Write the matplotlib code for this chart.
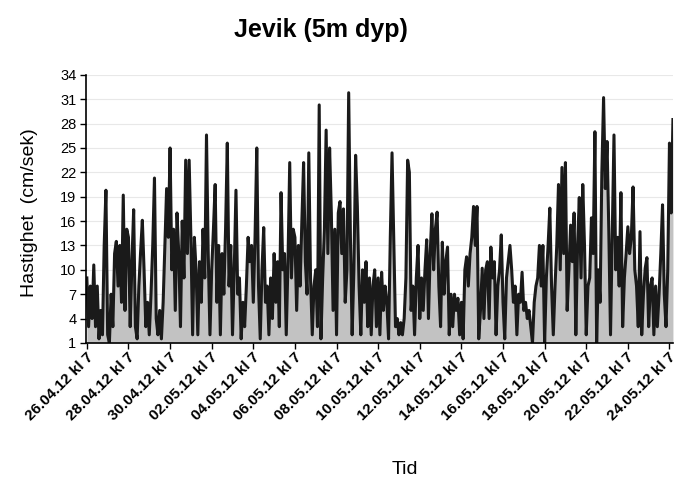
import numpy as np
import matplotlib
matplotlib.use("Agg")
import matplotlib.pyplot as plt
import matplotlib.transforms as mtransforms

plt.rcParams['font.family'] = ['Liberation Sans', 'DejaVu Sans']

# current speed (cm/s), one reading every 2 hours from 26.04.12 kl 7
speed = [
    9, 3, 8, 4, 10.6, 3, 8, 1.5, 5, 2, 13, 19.8,
    2, 1, 7, 3, 12, 13.5, 8, 13, 6, 19.2, 5, 15,
    14, 3, 11, 17.4, 3, 1.5, 8, 12.2, 16.1, 10, 3, 6,
    2, 7, 13, 21.3, 4, 2, 5, 1.5, 6, 13, 20, 14,
    25, 10, 15, 5, 17, 12, 3, 16, 9, 23.5, 12, 23.5,
    14, 2, 14, 10, 2, 11, 6, 15, 9, 26.6, 12, 2,
    10, 15, 20.5, 6, 13, 2, 12, 7, 15, 25.6, 8, 13,
    2, 10, 19.8, 7, 9, 1.5, 6, 3, 8, 14, 11, 13,
    6, 14, 25, 8, 1.5, 10, 15.2, 6, 8, 2, 9, 4,
    12, 6, 11, 3, 19.5, 10, 12, 2, 11, 23.2, 9, 15,
    14, 5, 13, 8, 16, 23.2, 11, 7, 24.4, 9, 2, 8,
    10, 3, 30.3, 1.5, 9, 15, 27.2, 12, 25, 17, 5, 15,
    2, 17, 18.4, 12, 17.5, 6, 10, 31.8, 14, 2, 10, 24.1,
    17.8, 8, 2, 10, 6, 11, 3, 9, 2, 8, 10, 3,
    9, 2, 9.7, 5, 8, 6, 1.5, 14, 24.4, 14, 3, 4,
    2, 3.5, 2, 4, 9, 23.5, 22, 5, 8, 2, 9, 13,
    4, 9, 5, 10, 13.7, 4, 12, 16.9, 10, 15, 17.1, 8,
    3, 13.4, 7, 11, 12.8, 2, 7, 3, 7, 5, 6.5, 2,
    6, 1.5, 10, 11.6, 8, 12, 14, 17.8, 13, 17.8, 1.5, 5,
    10.2, 4, 10, 11, 4, 12.8, 9, 11, 2, 8, 10, 14.3,
    6, 1.5, 9, 11, 13, 10, 6, 8, 2, 7, 6, 9.7,
    5, 6, 4, 5, 3, 1, 6, 8, 9, 13, 8, 13,
    1, 9, 13, 17.6, 8, 2, 8, 13, 20.5, 10, 22.6, 12,
    23.2, 5, 10, 15.5, 11, 17, 2, 13, 18.9, 9, 20.5, 13,
    2, 8, 9, 16.4, 12, 27, 1, 10, 6, 22, 31.2, 20,
    25.8, 15, 2, 14, 26.6, 10, 14, 8, 19.5, 3, 9, 12,
    15.3, 12, 14, 20.2, 10, 8, 3, 14.7, 2, 7, 10.2, 11.5,
    3, 8, 9, 2, 8, 3, 7, 12, 18, 7, 3, 10,
    25.6, 17, 28.5,
]
step_hours = 2

tick_labels = ['26.04.12 kl 7', '28.04.12 kl 7', '30.04.12 kl 7', '02.05.12 kl 7',
               '04.05.12 kl 7', '06.05.12 kl 7', '08.05.12 kl 7', '10.05.12 kl 7',
               '12.05.12 kl 7', '14.05.12 kl 7', '16.05.12 kl 7', '18.05.12 kl 7',
               '20.05.12 kl 7', '22.05.12 kl 7', '24.05.12 kl 7']
y_ticks = [1, 4, 7, 10, 13, 16, 19, 22, 25, 28, 31, 34]

hours = np.arange(len(speed)) * step_hours
speed = np.array(speed)

fig = plt.figure(figsize=(6.77, 4.83), dpi=100)
ax = fig.add_axes([0.127, 0.290, 0.867, 0.555])

for yv in y_ticks[1:]:
    ax.axhline(yv, color='#e8e8e8', lw=0.8, zorder=0)

ax.fill_between(hours, 1, speed, color='#c2c2c2', lw=0, zorder=1)
ax.plot(hours, speed, color='#1a1a1a', lw=2.2, zorder=2)

ax.set_xlim(-1, hours[-1])
ax.set_ylim(1, 34)
ax.set_yticks(y_ticks)
ax.set_yticklabels([str(v) for v in y_ticks], fontsize=10.5)
ax.set_xticks(np.arange(len(tick_labels)) * 48)
ax.set_xticklabels(tick_labels, rotation=45, ha='right', va='center',
                   rotation_mode='anchor', fontsize=11, fontweight='bold')
ax.tick_params(axis='both', direction='out', length=4, width=1, color='black')
ax.tick_params(axis='x', pad=5)
ax.tick_params(axis='y', pad=3)

# labels in the original sit a little right of their tick
shift = mtransforms.ScaledTranslation(4 / 100, 0, fig.dpi_scale_trans)
for lbl in ax.get_xticklabels():
    lbl.set_transform(lbl.get_transform() + shift)

for s in ['top', 'right']:
    ax.spines[s].set_visible(False)
for s in ['left', 'bottom']:
    ax.spines[s].set_linewidth(1.2)

fig.text(0.474, 0.938, 'Jevik (5m dyp)', ha='center', va='center',
         fontsize=18, fontweight='bold')
fig.text(0.044, 0.559, 'Hastighet  (cm/sek)', ha='center', va='center',
         rotation=90, fontsize=14)
fig.text(0.598, 0.027, 'Tid', ha='center', va='center', fontsize=14)

fig.savefig('out.png', dpi=100)
